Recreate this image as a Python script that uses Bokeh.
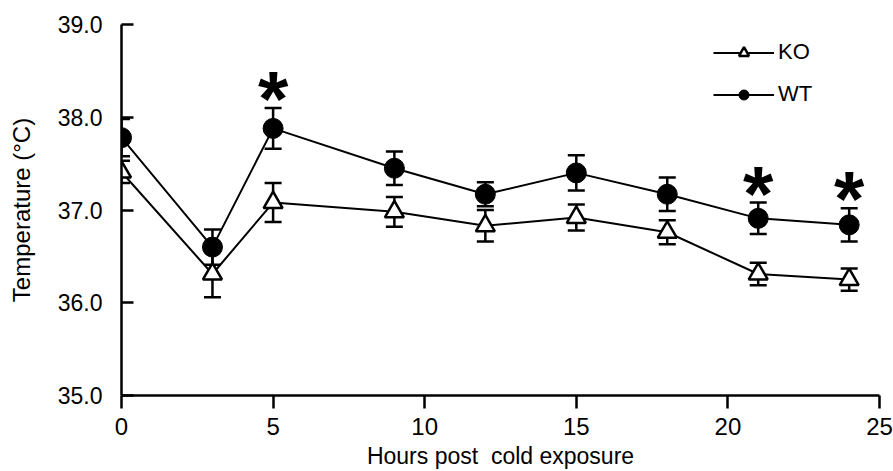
from bokeh.plotting import figure
from bokeh.models import (ColumnDataSource, Whisker, TeeHead, Legend, LegendItem,
                          FixedTicker, PrintfTickFormatter, Range1d)
from bokeh.core.properties import value
from bokeh.embed import file_html
from bokeh.resources import INLINE

hours = [0, 3, 5, 9, 12, 15, 18, 21, 24]
wt = [37.78, 36.60, 37.88, 37.45, 37.17, 37.40, 37.17, 36.91, 36.84]
wt_err = [0.20, 0.19, 0.22, 0.18, 0.13, 0.19, 0.18, 0.17, 0.18]
ko = [37.41, 36.31, 37.08, 36.98, 36.83, 36.92, 36.76, 36.31, 36.25]
ko_err = [0.12, 0.25, 0.21, 0.16, 0.17, 0.14, 0.13, 0.12, 0.12]
sig_hours = [5, 21, 24]
x_ticks = [0, 5, 10, 15, 20, 25]
y_ticks = [35, 36, 37, 38, 39]

FONT = "Liberation Sans"

p = figure(width=893, height=471, output_backend="svg", toolbar_location=None,
           x_range=Range1d(0, 25), y_range=Range1d(35, 39),
           min_border_left=121, min_border_right=14, min_border_top=24, min_border_bottom=76)
p.outline_line_color = None
p.xgrid.visible = False
p.ygrid.visible = False

wt_src = ColumnDataSource(dict(x=hours, y=wt,
                               upper=[v + e for v, e in zip(wt, wt_err)],
                               lower=[v - e for v, e in zip(wt, wt_err)]))
ko_src = ColumnDataSource(dict(x=hours, y=ko,
                               upper=[v + e for v, e in zip(ko, ko_err)],
                               lower=[v - e for v, e in zip(ko, ko_err)]))

for src in (wt_src, ko_src):
    w = Whisker(base="x", upper="upper", lower="lower", source=src,
                line_color="black", line_width=2.5, level="underlay",
                upper_head=TeeHead(size=17, line_width=2.5, line_color="black"),
                lower_head=TeeHead(size=17, line_width=2.5, line_color="black"))
    p.add_layout(w)

ko_line = p.line("x", "y", source=ko_src, line_color="black", line_width=2)
wt_line = p.line("x", "y", source=wt_src, line_color="black", line_width=2)
wt_pts = p.scatter("x", "y", source=wt_src, marker="circle", size=20,
                   fill_color="black", line_color="black")
ko_pts = p.scatter("x", "y", source=ko_src, marker="triangle", size=19,
                   fill_color="white", line_color="black", line_width=2.5)

idx = [hours.index(h) for h in sig_hours]
sig_y = [wt[i] + wt_err[i] for i in idx]
p.text(x=sig_hours, y=sig_y, text=["*"] * len(sig_hours),
       text_font=value(FONT), text_font_style="bold", text_font_size="78px",
       text_align="center", text_baseline="alphabetic", y_offset=-9, text_color="black")

legend = Legend(items=[LegendItem(label="KO", renderers=[ko_line, ko_pts]),
                       LegendItem(label="WT", renderers=[wt_line, wt_pts])],
                location=(592, 288), padding=0, margin=0, spacing=16,
                glyph_width=61, glyph_height=25, label_height=25, label_standoff=4,
                label_text_font=FONT, label_text_font_size="22px", label_text_color="black",
                border_line_color=None, background_fill_alpha=0)
p.add_layout(legend, "center")

p.xaxis.ticker = FixedTicker(ticks=x_ticks)
p.yaxis.ticker = FixedTicker(ticks=y_ticks)
p.yaxis.formatter = PrintfTickFormatter(format="%.1f")
for ax in (p.xaxis, p.yaxis):
    ax.axis_line_width = 2.5
    ax.axis_line_color = "black"
    ax.major_tick_line_width = 2.5
    ax.major_tick_line_color = "black"
    ax.minor_tick_line_color = None
    ax.major_label_text_font = FONT
    ax.major_label_text_color = "black"
    ax.axis_label_text_font = FONT
    ax.axis_label_text_font_style = "normal"
    ax.axis_label_text_color = "black"

p.xaxis.major_tick_in = 0
p.xaxis.major_tick_out = 13
p.xaxis.major_label_standoff = 9
p.xaxis.major_label_text_font_size = "24px"
p.xaxis.axis_label = "Hours post\u00a0 cold exposure"
p.xaxis.axis_label_text_font_size = "23px"
p.xaxis.axis_label_standoff = 5

p.yaxis.major_tick_in = 12
p.yaxis.major_tick_out = 0
p.yaxis.major_label_standoff = 19
p.yaxis.major_label_text_font_size = "23px"
p.yaxis.axis_label = "Temperature (°C)"
p.yaxis.axis_label_text_font_size = "24px"
p.yaxis.axis_label_standoff = 20

open("out.html", "w").write(file_html(p, INLINE))
